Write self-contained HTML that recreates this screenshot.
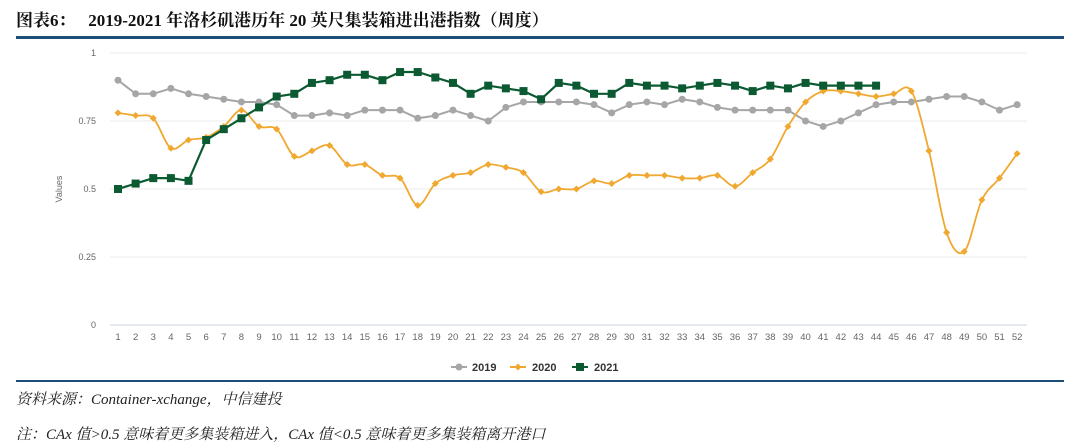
<!DOCTYPE html>
<html><head><meta charset="utf-8"><style>
body{margin:0;width:1080px;height:443px;background:#fff;overflow:hidden;position:relative;font-family:"Liberation Serif","Noto Serif CJK SC",serif}
.t{position:absolute;left:16px;top:6px;font-size:17px;font-weight:bold;color:#111;white-space:nowrap}
.bar{position:absolute;left:16px;width:1048px;background:#1d4e7a}
.s{position:absolute;left:16px;font-size:15px;font-style:italic;color:#222;white-space:nowrap}
</style></head><body>
<div class="t">图表6：&nbsp;&nbsp;&nbsp;2019-2021 年洛杉矶港历年 20 英尺集装箱进出港指数（周度）</div>
<div class="bar" style="top:36px;height:3px"></div>
<div class="bar" style="top:380px;height:2px"></div>
<div class="s" style="top:388px">资料来源：Container-xchange，中信建投</div>
<div class="s" style="top:423px">注：CAx 值&gt;0.5 意味着更多集装箱进入，CAx 值&lt;0.5 意味着更多集装箱离开港口</div>
<svg id="c" width="1080" height="443" style="position:absolute;left:0;top:0" font-family="Liberation Sans, sans-serif"></svg>
<script>
var a=[.90,.85,.85,.87,.85,.84,.83,.82,.82,.81,.77,.77,.78,.77,.79,.79,.79,.76,.77,.79,.77,.75,.80,.82,.82,.82,.82,.81,.78,.81,.82,.81,.83,.82,.80,.79,.79,.79,.79,.75,.73,.75,.78,.81,.82,.82,.83,.84,.84,.82,.79,.81];
var b=[.78,.77,.76,.65,.68,.69,.73,.79,.73,.72,.62,.64,.66,.59,.59,.55,.54,.44,.52,.55,.56,.59,.58,.56,.49,.50,.50,.53,.52,.55,.55,.55,.54,.54,.55,.51,.56,.61,.73,.82,.86,.86,.85,.84,.85,.86,.64,.34,.27,.46,.54,.63];
var g=[.50,.52,.54,.54,.53,.68,.72,.76,.80,.84,.85,.89,.90,.92,.92,.90,.93,.93,.91,.89,.85,.88,.87,.86,.83,.89,.88,.85,.85,.89,.88,.88,.87,.88,.89,.88,.86,.88,.87,.89,.88,.88,.88,.88];
function X(i){return 118+i*17.63}function Y(v){return 325-272*v}
var h='';
[0,.25,.5,.75,1].forEach(function(v,k){var y=Y(v);h+='<line x1="110" x2="1027" y1="'+y+'" y2="'+y+'" stroke="'+(v==0?'#d6dde6':'#efefef')+'" stroke-width="1.2"/>';h+='<text x="96" y="'+(y+3)+'" font-size="9" fill="#666" text-anchor="end">'+['0','0.25','0.5','0.75','1'][k]+'</text>';});
h+='<text x="62" y="189" font-size="9" fill="#666" text-anchor="middle" transform="rotate(-90 62 189)">Values</text>';
for(var i=0;i<52;i++)h+='<text x="'+X(i)+'" y="340" font-size="9.5" fill="#666" text-anchor="middle">'+(i+1)+'</text>';
function poly(d){return d.map(function(v,i){return X(i).toFixed(1)+','+Y(v).toFixed(1)}).join(' ')}
function spline(d){var p=d.map(function(v,i){return[X(i),Y(v)]});var s='M'+p[0];for(var i=0;i<p.length-1;i++){var p0=p[i-1]||p[i],p1=p[i],p2=p[i+1],p3=p[i+2]||p2;var c1=[p1[0]+(p2[0]-p0[0])/6,p1[1]+(p2[1]-p0[1])/6],c2=[p2[0]-(p3[0]-p1[0])/6,p2[1]-(p3[1]-p1[1])/6];s+=' C'+c1+' '+c2+' '+p2;}return s}
h+='<polyline points="'+poly(a)+'" fill="none" stroke="#a6a6a6" stroke-width="2"/>';
a.forEach(function(v,i){h+='<circle cx="'+X(i)+'" cy="'+Y(v)+'" r="3.5" fill="#a6a6a6"/>'});
h+='<path d="'+spline(b)+'" fill="none" stroke="#f0a830" stroke-width="1.8"/>';
b.forEach(function(v,i){h+='<path d="M'+X(i)+' '+(Y(v)-3.5)+'L'+(X(i)+3.5)+' '+Y(v)+'L'+X(i)+' '+(Y(v)+3.5)+'L'+(X(i)-3.5)+' '+Y(v)+'Z" fill="#f0a830"/>'});
h+='<polyline points="'+poly(g)+'" fill="none" stroke="#0b5a32" stroke-width="2.2"/>';
g.forEach(function(v,i){h+='<rect x="'+(X(i)-4)+'" y="'+(Y(v)-4)+'" width="8" height="8" fill="#0b5a32"/>'});
// legend
h+='<line x1="451" x2="467" y1="367" y2="367" stroke="#a6a6a6" stroke-width="2"/><circle cx="459" cy="367" r="3.5" fill="#a6a6a6"/><text x="472" y="371" font-size="11" font-weight="bold" fill="#333">2019</text>';
h+='<line x1="510" x2="526" y1="367" y2="367" stroke="#f0a830" stroke-width="2"/><path d="M518 363.5L521.5 367L518 370.5L514.5 367Z" fill="#f0a830"/><text x="532" y="371" font-size="11" font-weight="bold" fill="#333">2020</text>';
h+='<line x1="572" x2="588" y1="367" y2="367" stroke="#0b5a32" stroke-width="2"/><rect x="576" y="363" width="8" height="8" fill="#0b5a32"/><text x="594" y="371" font-size="11" font-weight="bold" fill="#333">2021</text>';
document.getElementById('c').innerHTML=h;
</script>
</body></html>
